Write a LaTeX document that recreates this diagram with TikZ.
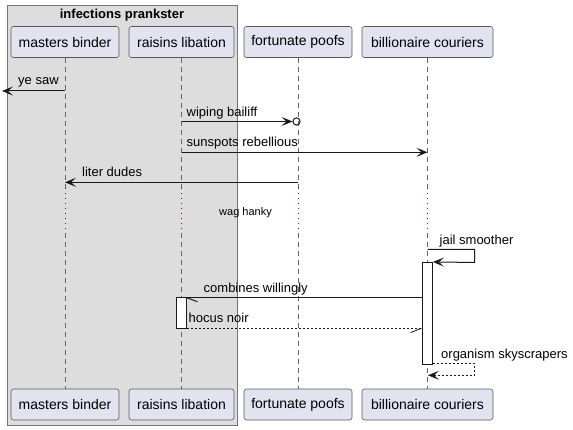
\documentclass[tikz,border=0pt]{standalone}
\usepackage{fontspec}
\setmainfont{Liberation Sans}
\usetikzlibrary{arrows.meta,calc}
\definecolor{partfill}{HTML}{E2E2F0}
\definecolor{grpfill}{HTML}{DDDDDD}
\definecolor{delayred}{HTML}{A80036}
\begin{document}
\begin{tikzpicture}[x=1pt,y=-1pt,
  part/.style={draw=black!65, fill=partfill, rounded corners=2.5pt, line width=0.6pt,
    minimum height=31pt, inner sep=0pt, font=\fontsize{14}{16}\selectfont},
  life/.style={draw=black!60, line width=0.6pt, dash pattern=on 5pt off 4pt},
  delay/.style={draw=delayred, line width=0.8pt, dash pattern=on 1pt off 4pt},
  tip/.style={-{Stealth[length=11pt,width=9pt,inset=5pt]}},
  msg/.style={draw=black!90, line width=1pt, tip},
  plain/.style={draw=black!90, line width=1pt},
  ret/.style={draw=black!90, line width=0.8pt, dash pattern=on 2pt off 2pt},
  lbl/.style={font=\fontsize{13}{15}\selectfont, anchor=base west, inner sep=0pt},
  actbox/.style={draw=black!90, fill=white, line width=0.8pt, inner sep=0pt, minimum width=10pt}
]
\useasboundingbox (0,0) rectangle (573,430);
% group
\draw[draw=black!55, fill=grpfill, line width=0.8pt] (7,5.5) rectangle (237,425);
\node[font=\bfseries\fontsize{13}{15}\selectfont, anchor=base, inner sep=0pt] (grp) at (122,18.5) {infections prankster};
% participants
\node[part, minimum width=108pt] (mbT) at (65,42) {masters binder};
\node[part, minimum width=105pt] (rlT) at (181.5,42) {raisins libation};
\node[part, minimum width=108pt] (fpT) at (298,42) {fortunate poofs};
\node[part, minimum width=131pt] (bcT) at (427.5,42) {billionaire couriers};
\node[part, minimum width=108pt] (mbB) at (65,404.5) {masters binder};
\node[part, minimum width=105pt] (rlB) at (181.5,404.5) {raisins libation};
\node[part, minimum width=108pt] (fpB) at (298,404.5) {fortunate poofs};
\node[part, minimum width=131pt] (bcB) at (427.5,404.5) {billionaire couriers};
% lifelines
\foreach \p/\x in {mb/65,rl/181.5,fp/298,bc/427.5}{
  \coordinate (\p D1) at (\x,188);
  \coordinate (\p D2) at (\x,233);
  \draw[life] (\p T.south) -- (\p D1);
  \draw[delay] (\p D1) -- (\p D2);
  \draw[life] (\p D2) -- (\p B.north);
}
% activations
\node[actbox, minimum height=102pt] (actBC) at (427.5,313.3) {};
\node[actbox, minimum height=31pt] (actRL) at (181.5,312.8) {};
% ye saw
\coordinate (m1a) at (65,91);
\coordinate (m1b) at (2,91);
\draw[msg] (m1a) -- (m1b);
\node[lbl] (l1) at (18,84.5) {ye saw};
% wiping bailiff
\coordinate (m2a) at (181.5,121.5);
\coordinate (m2b) at (292.5,121.5);
\coordinate (m2c) at (296.5,121.5);
\draw[msg] (m2a) -- (m2b);
\draw[draw=black!90, line width=1pt] (m2c) circle (3.6pt);
\node[lbl] (l2) at (186.5,116.5) {wiping bailiff};
% sunspots rebellious
\coordinate (m3a) at (181.5,152.3);
\coordinate (m3b) at (427.5,152.3);
\draw[msg] (m3a) -- (m3b);
\node[lbl] (l3) at (186.5,147) {sunspots rebellious};
% liter dudes
\coordinate (m4a) at (298,182.3);
\coordinate (m4b) at (65,182.3);
\draw[msg] (m4a) -- (m4b);
\node[lbl] (l4) at (82,177) {liter dudes};
% wag hanky
\node[font=\fontsize{11}{13}\selectfont, anchor=base west, inner sep=0pt] (dl) at (219,215.5) {wag hanky};
% jail smoother
\coordinate (m5a) at (427.5,249.5);
\coordinate (m5b) at (474.5,249.5);
\coordinate (m5c) at (474.5,262.5);
\draw[msg] (m5a) -- (m5b) -- (m5c) -- (actBC.north east);
\node[lbl] (l5) at (439.5,244.5) {jail smoother};
% combines willingly
\coordinate (m6a) at (422.5,297.5);
\coordinate (m6b) at (186.5,297.5);
\coordinate (m6c) at (197.5,301.8);
\draw[plain] (m6a) -- (m6b);
\draw[plain] (m6b) -- (m6c);
\node[lbl] (l6) at (203.5,292.5) {combines willingly};
% hocus noir
\coordinate (m7a) at (186.5,328.3);
\coordinate (m7b) at (421.5,328.3);
\coordinate (m7c) at (410.5,332.6);
\draw[ret] (m7a) -- (m7b);
\draw[plain, line width=0.8pt] (m7b) -- (m7c);
\node[lbl] (l7) at (188.5,323) {hocus noir};
% organism skyscrapers
\coordinate (m8a) at (432.5,363.8);
\coordinate (m8b) at (474.5,363.8);
\coordinate (m8c) at (474.5,375.3);
\coordinate (m8d) at (428,375.3);
\coordinate (m8e) at (430,375.3);
\draw[ret] (m8a) -- (m8b) -- (m8c) -- (m8e);
\draw[draw=black!90, line width=0.8pt, tip] (m8e) -- (m8d);
\node[lbl] (l8) at (441,358.5) {organism skyscrapers};
\end{tikzpicture}
\end{document}
